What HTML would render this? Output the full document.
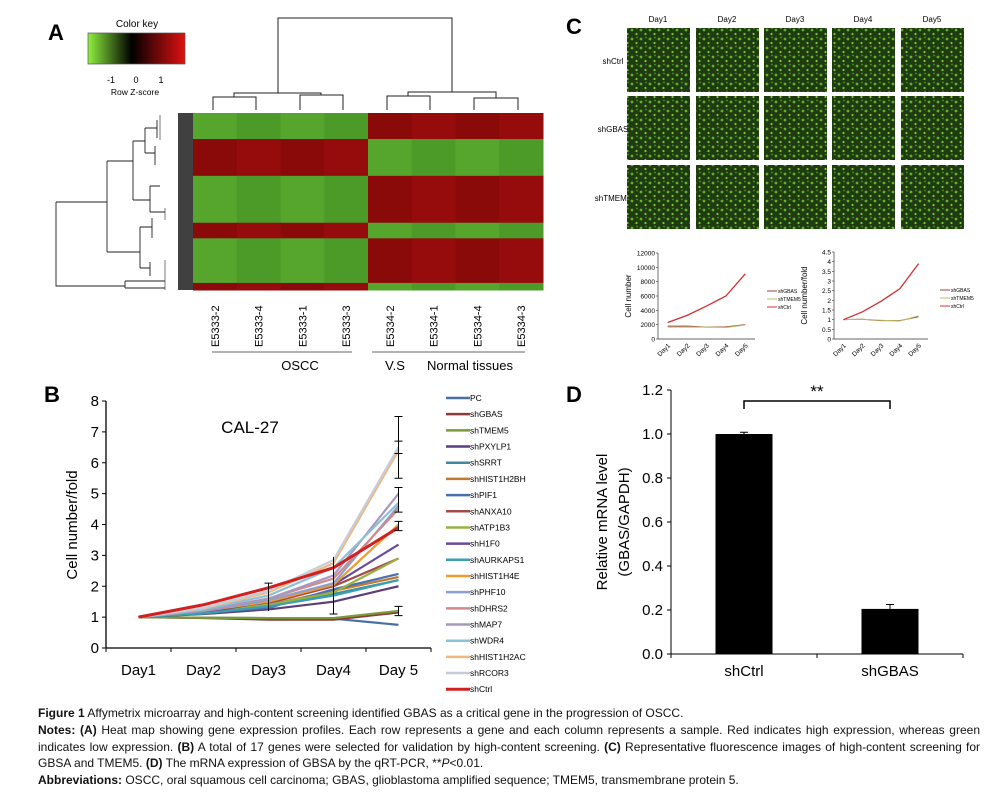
<!DOCTYPE html>
<html><head><meta charset="utf-8"><style>
body{margin:0;background:#fff;width:987px;height:794px;overflow:hidden;font-family:"Liberation Sans",sans-serif}
svg{position:absolute;left:0;top:0}
.cap{position:absolute;left:38px;width:942px;font-size:12px;line-height:16.8px;color:#111;text-align:justify;top:705px}
</style></head><body>
<svg id="fig" width="987" height="700" viewBox="0 0 987 700">
<defs>
<linearGradient id="ck" x1="0" x2="1"><stop offset="0" stop-color="#8ef040"/><stop offset="0.45" stop-color="#000"/><stop offset="1" stop-color="#e01010"/></linearGradient>
<pattern id="cells" width="9" height="9" patternUnits="userSpaceOnUse"><rect width="9" height="9" fill="#1f3b12"/><circle cx="2" cy="3" r="1.4" fill="#62b02c"/><circle cx="6.5" cy="7" r="1.1" fill="#80c834"/><circle cx="7" cy="1.5" r="0.9" fill="#4e9222"/></pattern>
</defs>
<g id="panelA">
<text x="48" y="40" font-size="22" font-weight="bold">A</text>
<g>
<text x="137" y="27" font-size="10" text-anchor="middle">Color key</text>
<rect x="88" y="33" width="97" height="31" fill="url(#ck)" stroke="#555" stroke-width="0.7"/>
<text x="111" y="83" font-size="9" text-anchor="middle">-1</text><text x="136" y="83" font-size="9" text-anchor="middle">0</text><text x="161" y="83" font-size="9" text-anchor="middle">1</text>
<text x="135" y="95" font-size="8.5" text-anchor="middle">Row Z-score</text>
</g>
<g id="heat"></g>
<g fill="none" stroke="#222" stroke-width="1">
<path d="M213 110V97H256V110M300 110V95H343V110M234 97V93H321V95M387 110V96H430V110M474 110V98H518V110M408 96V92H496V98M278 93V18H452V92"/>
</g>
<g fill="none" stroke="#222" stroke-width="0.9">
<path d="M56 202V286H62M56 202H107M107 161V252M107 161H133M133 141V200M133 141H145M145 128V153M145 128H157M157 120V138M145 153H155M155 146V165M133 200H150M150 186V212M150 186H160M150 212H165M107 252H140M140 227V268M140 227H152M152 218V238M140 268H150M150 262V276M62 286H125M125 281V288M125 281H165M125 288H165"/>
<path d="M160 115V140M165 208V220M165 260V290" stroke-width="0.6"/>
</g>
<g>
<rect x="178" y="113" width="15" height="177" fill="#000" opacity="0.75"/>
</g>
<g id="collabels" font-size="11"></g>
<line x1="212" y1="352" x2="352" y2="352" stroke="#666"/><line x1="372" y1="352" x2="525" y2="352" stroke="#666"/>
<text x="300" y="370" font-size="13" text-anchor="middle">OSCC</text>
<text x="395" y="370" font-size="13" text-anchor="middle">V.S</text>
<text x="470" y="370" font-size="13" text-anchor="middle">Normal tissues</text>
</g>
<g id="panelC">
<text x="566" y="34" font-size="22" font-weight="bold">C</text>
<g id="imgs"></g>
<g id="cl"></g>
<g id="cr"></g>
</g>
<g id="panelB">
<text x="44" y="402" font-size="22" font-weight="bold">B</text>
<text x="250" y="433" font-size="17" text-anchor="middle">CAL-27</text>
<text transform="translate(77,525) rotate(-90)" font-size="15" text-anchor="middle">Cell number/fold</text>
<g id="bchart"></g>
</g>
<g id="panelD">
<text x="566" y="402" font-size="22" font-weight="bold">D</text>
<text transform="translate(607,522) rotate(-90)" font-size="15" text-anchor="middle"><tspan x="0" dy="0">Relative mRNA level</tspan><tspan x="0" dy="22">(GBAS/GAPDH)</tspan></text>
<g id="dchart"></g>
</g>
</svg>
<div class="cap">
<div><b>Figure 1</b> Affymetrix microarray and high-content screening identified GBAS as a critical gene in the progression of OSCC.</div>
<div><b>Notes:</b> <b>(A)</b> Heat map showing gene expression profiles. Each row represents a gene and each column represents a sample. Red indicates high expression, whereas green indicates low expression. <b>(B)</b> A total of 17 genes were selected for validation by high-content screening. <b>(C)</b> Representative fluorescence images of high-content screening for GBSA and TMEM5. <b>(D)</b> The mRNA expression of GBSA by the qRT-PCR, **<i>P</i>&lt;0.01.</div>
<div><b>Abbreviations:</b> OSCC, oral squamous cell carcinoma; GBAS, glioblastoma amplified sequence; TMEM5, transmembrane protein 5.</div>
</div>
<script>
// ---------- data ----------
const heatSamples=["E5333-2","E5333-4","E5333-1","E5333-3","E5334-2","E5334-1","E5334-4","E5334-3"];
const heatBlocks=[0.147,0.208,0.265,0.088,0.252,0.04];
const heatOSCC=[-1,1,-1,1,-1,1];
const bDays=["Day1","Day2","Day3","Day4","Day 5"];
const bTicks=[0,1,2,3,4,5,6,7,8];
const bNames=["PC","shGBAS","shTMEM5","shPXYLP1","shSRRT","shHIST1H2BH","shPIF1","shANXA10","shATP1B3","shH1F0","shAURKAPS1","shHIST1H4E","shPHF10","shDHRS2","shMAP7","shWDR4","shHIST1H2AC","shRCOR3","shCtrl"];
const bColors=["#4a6fa5","#8b3a3a","#7a9a3a","#5a3f7a","#3f8a9a","#c07a30","#4a6fb0","#a04a4a","#9ab040","#6a4a9a","#3aa0b0","#f09a30","#8aa0d0","#d08a8a","#a898c0","#8ac0d8","#f0b880","#c8ccd8","#d02020"];
const bValues=[[1,0.98,0.97,0.95,0.75],[1,0.97,0.92,0.92,1.15],[1,0.98,0.97,0.97,1.2],[1,1.1,1.25,1.5,2.0],[1,1.12,1.35,1.75,2.2],[1,1.15,1.4,1.85,2.3],[1,1.13,1.3,1.9,2.4],[1,1.15,1.45,2.0,2.9],[1,1.17,1.4,1.8,2.9],[1,1.15,1.5,2.05,3.35],[1,1.12,1.35,1.7,2.2],[1,1.2,1.5,2.05,4.0],[1,1.2,1.55,2.1,4.6],[1,1.22,1.6,2.25,4.5],[1,1.22,1.6,2.35,5.0],[1,1.25,1.7,2.6,4.7],[1,1.28,1.8,2.75,6.4],[1,1.3,1.85,2.85,6.5],[1,1.4,1.95,2.6,3.9]];
const dCats=["shCtrl","shGBAS"];
const dValues=[1.0,0.205];
const dErr=[0.008,0.02];
const dTicks=["0.0","0.2","0.4","0.6","0.8","1.0","1.2"];
const cDays=["Day1","Day2","Day3","Day4","Day5"];
const cNames=["shGBAS","shTMEM5","shCtrl"];
const cColors=["#a04040","#b8c060","#d03030"];
const cCount=[[1800,1800,1650,1700,2000],[1650,1650,1650,1600,1950],[2300,3300,4600,6000,9100]];
const cCountTicks=[0,2000,4000,6000,8000,10000,12000];
const cFold=[[1,1.02,0.95,0.95,1.15],[1,1.02,0.97,0.93,1.2],[1,1.4,1.95,2.6,3.9]];
const cFoldTicks=[0,0.5,1,1.5,2,2.5,3,3.5,4,4.5];
const imgRows=["shCtrl","shGBAS","shTMEM5"];
const NS="http://www.w3.org/2000/svg";
function mk(t,a,p){const e=document.createElementNS(NS,t);for(const k in a)e.setAttribute(k,a[k]);if(p)p.appendChild(e);return e;}
function tx(p,x,y,s,a){const e=mk("text",Object.assign({x:x,y:y},a||{}),p);e.textContent=s;return e;}
// ---------- heatmap ----------
(function(){const g=document.getElementById("heat");const x0=193,w=350,y0=113,h=177,cw=w/heatSamples.length;let y=y0;
heatBlocks.forEach((f,bi)=>{const bh=f*h;heatSamples.forEach((s,ci)=>{const v=ci<4?heatOSCC[bi]:-heatOSCC[bi];
const r=mk("rect",{x:x0+ci*cw,y:y,width:cw+0.5,height:bh+0.5,fill:v>0?(ci%2?"#960c0c":"#8a0a0a"):(ci%2?"#4c9a28":"#56a52c")},g);
});y+=bh;});
const cl=document.getElementById("collabels");heatSamples.forEach((s,i)=>{const cx=x0+cw*(i+0.5)+4;const t=tx(cl,0,0,s,{transform:`translate(${cx},347) rotate(-90)`});});})();
// ---------- fluorescence ----------
(function(){const g=document.getElementById("imgs");const xs=[627,696,764,832,901],ys=[28,96,165];
cDays.forEach((d,i)=>{const t=tx(g,xs[i]+31,22,d,{"font-size":8,"text-anchor":"middle"});});
imgRows.forEach((r,j)=>{const t=tx(g,613,ys[j]+36,r,{"font-size":8,"text-anchor":"middle"});
xs.forEach(x=>{const im=mk("rect",{x:x,y:ys[j],width:63,height:64,fill:"url(#cells)"},g);});});})();
// ---------- small charts ----------
function small(id,x0,x1,yTop,yBot,ticks,series,title,legX){const g=document.getElementById(id);const max=ticks[ticks.length-1];
const Y=v=>yBot-(v/max)*(yBot-yTop);const step=(x1-x0)/cDays.length;const X=i=>x0+step*(i+0.5);
mk("line",{x1:x0,y1:yTop,x2:x0,y2:yBot,stroke:"#333","stroke-width":0.7},g);mk("line",{x1:x0,y1:yBot,x2:x1,y2:yBot,stroke:"#333","stroke-width":0.7},g);
ticks.forEach(t=>{mk("line",{x1:x0-2,y1:Y(t),x2:x0,y2:Y(t),stroke:"#333","stroke-width":0.6},g);const e=tx(g,x0-3,Y(t)+2.5,String(t),{"font-size":6.5,"text-anchor":"end"});});
cDays.forEach((d,i)=>{const e=tx(g,0,0,d,{"font-size":6.5,"text-anchor":"end",transform:`translate(${X(i)+3},${yBot+7}) rotate(-45)`});});
const tt=tx(g,0,0,title,{"font-size":8,"text-anchor":"middle",transform:`translate(${x0-27},${(yTop+yBot)/2}) rotate(-90)`});
series.forEach((s,k)=>{const p=mk("polyline",{points:s.map((v,i)=>X(i)+","+Y(v)).join(" "),fill:"none",stroke:cColors[k],"stroke-width":k==2?1.3:1},g);
const ly=yTop+38+k*8;mk("line",{x1:legX,y1:ly,x2:legX+10,y2:ly,stroke:cColors[k]},g);const l=tx(g,legX+11,ly+2,cNames[k],{"font-size":5});});}
small("cl",658,755,253,339,cCountTicks,cCount,"Cell number",767);
small("cr",834,928,252,339,cFoldTicks,cFold,"Cell number/fold",940);
// ---------- panel B ----------
(function(){const g=document.getElementById("bchart");const x0=106,x1=431,yB=648,yT=401;const Y=v=>yB-v/8*(yB-yT);const st=(x1-x0)/bDays.length;const X=i=>x0+st*(i+0.5);
mk("line",{x1:x0,y1:yT,x2:x0,y2:yB,stroke:"#000","stroke-width":1.3},g);mk("line",{x1:x0,y1:yB,x2:x1,y2:yB,stroke:"#000","stroke-width":1.3},g);
bTicks.forEach(t=>{mk("line",{x1:x0-4,y1:Y(t),x2:x0,y2:Y(t),stroke:"#000"},g);const e=tx(g,x0-7,Y(t)+5,String(t),{"font-size":15,"text-anchor":"end"});});
for(let i=0;i<=bDays.length;i++)mk("line",{x1:x0+st*i,y1:yB,x2:x0+st*i,y2:yB+4,stroke:"#000"},g);
bDays.forEach((d,i)=>{const e=tx(g,X(i),yB+27,d,{"font-size":15,"text-anchor":"middle"});});
bValues.forEach((s,k)=>{const p=mk("polyline",{points:s.map((v,i)=>X(i)+","+Y(v)).join(" "),fill:"none",stroke:bColors[k],"stroke-width":k==18?3:2.2},g);
const ly=398+k*16.18;const l=mk("line",{x1:446,y1:ly,x2:470,y2:ly,stroke:bColors[k],"stroke-width":k==18?3:2.5},g);
const t=tx(g,470,ly+3,bNames[k],{"font-size":8.5});});
[[5.5,7.5],[6.3,6.7],[4.4,5.2],[1.05,1.35],[3.8,4.1]].forEach(r=>{mk("path",{d:`M${X(4)} ${Y(r[0])}V${Y(r[1])}M${X(4)-4} ${Y(r[0])}h8M${X(4)-4} ${Y(r[1])}h8`,stroke:"#000","stroke-width":1,fill:"none"},g);});
mk("path",{d:`M${X(3)} ${Y(1.1)}V${Y(2.95)}M${X(3)-4} ${Y(1.1)}h8M${X(2)} ${Y(1.2)}V${Y(2.1)}M${X(2)-4} ${Y(2.1)}h8`,stroke:"#000","stroke-width":1,fill:"none"},g);})();
// ---------- panel D ----------
(function(){const g=document.getElementById("dchart");const x0=671,x1=963,yB=654,yT=390;const Y=v=>yB-v/1.2*(yB-yT);const st=(x1-x0)/dCats.length;const X=i=>x0+st*(i+0.5);const bw=57;
mk("line",{x1:x0,y1:yT,x2:x0,y2:yB,stroke:"#000"},g);mk("line",{x1:x0,y1:yB,x2:x1,y2:yB,stroke:"#000"},g);
dTicks.forEach(t=>{const v=parseFloat(t);mk("line",{x1:x0-4,y1:Y(v),x2:x0,y2:Y(v),stroke:"#000"},g);const e=tx(g,x0-8,Y(v)+5,t,{"font-size":15,"text-anchor":"end"});});
for(let i=0;i<=dCats.length;i++)mk("line",{x1:x0+st*i,y1:yB,x2:x0+st*i,y2:yB+4,stroke:"#000"},g);
dCats.forEach((c,i)=>{const b=mk("rect",{x:X(i)-bw/2,y:Y(dValues[i]),width:bw,height:yB-Y(dValues[i]),fill:"#000"},g);
mk("path",{d:`M${X(i)} ${Y(dValues[i])}V${Y(dValues[i]+dErr[i])}M${X(i)-4} ${Y(dValues[i]+dErr[i])}h8`,stroke:"#000",fill:"none"},g);
const e=tx(g,X(i),yB+22,c,{"font-size":15,"text-anchor":"middle"});});
const br=mk("path",{d:`M${X(0)} 409V401H${X(1)}V409`,stroke:"#000","stroke-width":1.5,fill:"none"},g);
const s=tx(g,(X(0)+X(1))/2,397,"**",{"font-size":17,"text-anchor":"middle"});})();
</script>
</body></html>
